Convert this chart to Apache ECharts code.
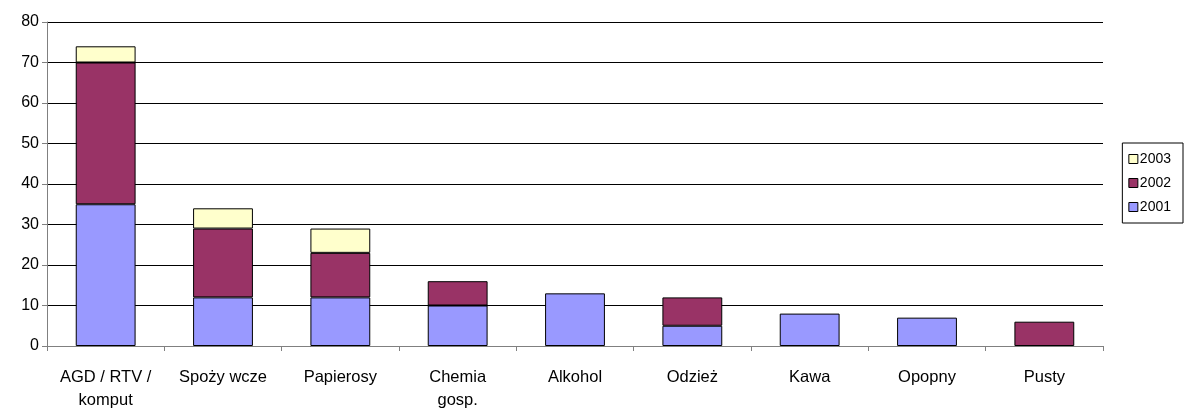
<!DOCTYPE html>
<html>
<head>
<meta charset="utf-8">
<script src="https://cdn.jsdelivr.net/npm/echarts@6/dist/echarts.min.js"></script>
<style>
  html,body{margin:0;padding:0;background:#fff;}
  #chart{width:1187px;height:409px;}
</style>
</head>
<body>
<div id="chart"></div>
<script>
  var categories = ['AGD / RTV /\nkomput', 'Spoży wcze', 'Papierosy', 'Chemia\ngosp.', 'Alkohol', 'Odzież', 'Kawa', 'Opopny', 'Pusty'];
  var y2001 = [35, 12, 12, 10, 13, 5, 8, 7, 0];
  var y2002 = [35, 17, 11, 6, 0, 7, 0, 0, 6];
  var y2003 = [4, 5, 6, 0, 0, 0, 0, 0, 0];
  var yTicks = [0, 10, 20, 30, 40, 50, 60, 70, 80];

  var myChart = echarts.init(document.getElementById('chart'));
  var font = 'Liberation Sans, Arial, sans-serif';

  function bar(name, data, color) {
    return {
      name: name,
      type: 'bar',
      stack: 'all',
      barWidth: '51%',
      // zero segments are left out so they draw no border line
      data: data.map(function (v) { return v === 0 ? '-' : v; }),
      itemStyle: {color: color, borderColor: '#000', borderWidth: 1},
      emphasis: {disabled: true}
    };
  }

  myChart.setOption({
    animation: false,
    grid: {left: 47, right: 84, top: 22, bottom: 63, outerBoundsMode: 'none', containLabel: false},
    legend: {
      orient: 'vertical',
      right: 4,
      top: 143,
      data: ['2003', '2002', '2001'],
      icon: 'rect',
      itemWidth: 9,
      itemHeight: 9,
      itemGap: 10,
      padding: [9, 12, 9, 6],
      borderColor: '#000',
      borderWidth: 1,
      itemStyle: {borderColor: '#000', borderWidth: 1},
      textStyle: {fontFamily: font, fontSize: 14, color: '#000', padding: [0, 0, 0, -3]}
    },
    xAxis: {
      type: 'category',
      data: categories,
      axisLine: {lineStyle: {color: '#808080'}},
      axisTick: {show: true, length: 5, lineStyle: {color: '#808080'}},
      axisLabel: {fontFamily: font, fontSize: 16.5, color: '#000', margin: 20, lineHeight: 23, interval: 0}
    },
    yAxis: {
      type: 'value',
      min: yTicks[0],
      max: yTicks[yTicks.length - 1],
      interval: 10,
      axisLine: {show: true, lineStyle: {color: '#808080'}},
      axisTick: {show: true, length: 5, lineStyle: {color: '#808080'}},
      axisLabel: {fontFamily: font, fontSize: 16, color: '#000', margin: 8},
      splitLine: {lineStyle: {color: '#000', width: 1}}
    },
    series: [
      bar('2001', y2001, '#9999FF'),
      bar('2002', y2002, '#993366'),
      bar('2003', y2003, '#FFFFCC')
    ]
  });
</script>
</body>
</html>
